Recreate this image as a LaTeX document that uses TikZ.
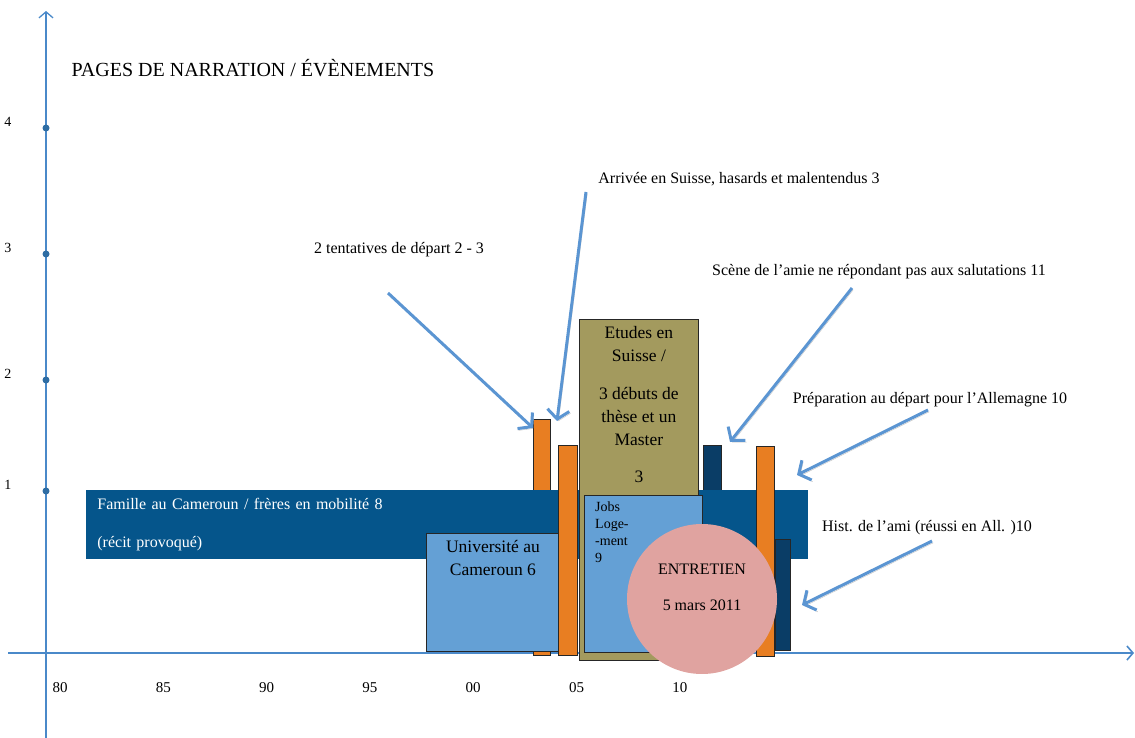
\documentclass[tikz,border=0pt]{standalone}
\usepackage{fontspec}
\setmainfont{Liberation Serif}
\usetikzlibrary{positioning, arrows.meta}
\definecolor{axisblue}{HTML}{4A89C9}
\definecolor{dotblue}{HTML}{2E6DA4}
\definecolor{arrowblue}{HTML}{5B95D2}
\definecolor{famblue}{HTML}{05558B}
\definecolor{lightblue}{HTML}{64A0D5}
\definecolor{barorange}{HTML}{E87E22}
\definecolor{khaki}{HTML}{A39A5E}
\definecolor{navy}{HTML}{0A3D66}
\definecolor{rosepink}{HTML}{E0A3A0}
\tikzset{
axisline/.style={draw=axisblue, line width=1.6pt, -{Straight Barb[length=6pt,width=14pt]}}, % the two axes
bar/.style={draw=black!85, line width=0.8pt, inner sep=0pt, anchor=north west}, % every coloured block
pointer/.style={draw=arrowblue, line width=3pt, -{Straight Barb[length=9pt,width=22pt]},
  preaction={draw=black!25, transform canvas={shift={(1.2pt,-1.8pt)}}}}, % the comment arrows, with a soft shadow
note/.style={font=\fontsize{16}{19}\selectfont, inner sep=0pt}, % texts beside the arrows
boxtext/.style={font=\fontsize{17.5}{23}\selectfont, align=center, inner sep=0pt}, % texts inside the blocks
tick/.style={font=\fontsize{15}{18}\selectfont, inner sep=0pt}, % years and page counts
}
\begin{document}
\begin{tikzpicture}[x=1pt, y=-1pt]
\useasboundingbox (0,0) rectangle (1135,738);

% axes
\coordinate (xs) at (8,653);
\coordinate (xe) at (1134,653);
\coordinate (ys) at (46,738);
\coordinate (ye) at (46,11);
\draw[axisline] (xs) -- (xe);
\draw[axisline, line width=1.3pt] (ys) -- (ye);

\foreach \lab [count=\i from 0] in {80,85,90,95,00,05,10}
  \node[tick] (yr\i) at (60+103.3*\i,688) {\lab};
\foreach \n/\y in {1/491, 2/380, 3/254, 4/128} {
  \fill[dotblue] (46,\y) circle (3.5);
  \node[tick, font=\fontsize{14}{16}\selectfont] (pg\n) at (8,\y-6) {\n};
}

\node[font=\fontsize{20}{24}\selectfont, inner sep=0pt] (title) at (253,68) {PAGES DE NARRATION / ÉVÈNEMENTS};

% blocks
\node[bar, fill=barorange, minimum width=17, minimum height=236] (dep1) at (533,419) {};
\node[bar, fill=navy, minimum width=18, minimum height=60] (amie) at (703,445) {};
\node[bar, draw=none, fill=famblue, minimum height=69, text width=700, inner xsep=11, align=left,
  text=white, font=\fontsize{16}{19}\selectfont] (famille) at (86,490)
  {Famille au Cameroun / frères en mobilité 8\\[19pt](récit provoqué)};
\node[bar, fill=lightblue, minimum width=133, minimum height=118] (univ) at (426,533) {};
\node[boxtext, below=7pt of univ.north] (univtxt) {Université au\\Cameroun 6};
\node[bar, fill=barorange, minimum width=19, minimum height=210] (dep2) at (558,445) {};
\node[bar, fill=khaki, minimum width=119, minimum height=341] (etudes) at (579,319) {};
\node[boxtext, below=7pt of etudes.north] (etudestxt)
  {Etudes en\\Suisse /\\[15pt]3 débuts de\\thèse et un\\Master\\[14pt]3};
\node[bar, fill=lightblue, minimum width=118, minimum height=157] (jobs) at (584,495) {};
\node[font=\fontsize{14}{17}\selectfont, align=left, inner sep=0pt, anchor=north west]
  (jobstxt) at (595,502) {Jobs\\Loge-\\-ment\\9};
\node[bar, fill=barorange, minimum width=18, minimum height=210] (prep) at (756,446) {};
\node[bar, fill=navy, minimum width=15, minimum height=111] (ami) at (775,539) {};
\node[circle, fill=rosepink, minimum size=150, inner sep=0pt] (entretien) at (702,599) {};
\node[font=\fontsize{16}{19}\selectfont, align=center, inner sep=0pt] (entrtxt)
  at ([yshift=12pt]entretien.center) {ENTRETIEN\\[17pt]5 mars 2011};

% comments and their arrows
\node[note] (tent) at (399,250) {2 tentatives de départ 2 - 3};
\node[note] (arr) at (739,179) {Arrivée en Suisse, hasards et malentendus 3};
\node[note] (scene) at (879,272) {Scène de l’amie ne répondant pas aux salutations 11};
\node[note] (prepa) at (930,400) {Préparation au départ pour l’Allemagne 10};
\node[note] (hist) at (927,528) {Hist. de l’ami (réussi en All. )10};

\coordinate (t1) at (388,293); \coordinate (h1) at (533,428);
\coordinate (t2) at (586,192); \coordinate (h2) at (557,421);
\coordinate (t3) at (852,288); \coordinate (h3) at (730,442);
\coordinate (t4) at (928,410); \coordinate (h4) at (797,475);
\coordinate (t5) at (932,541); \coordinate (h5) at (802,605);
\foreach \k in {1,...,5}
  \draw[pointer] (t\k) -- (h\k);

\end{tikzpicture}
\end{document}
